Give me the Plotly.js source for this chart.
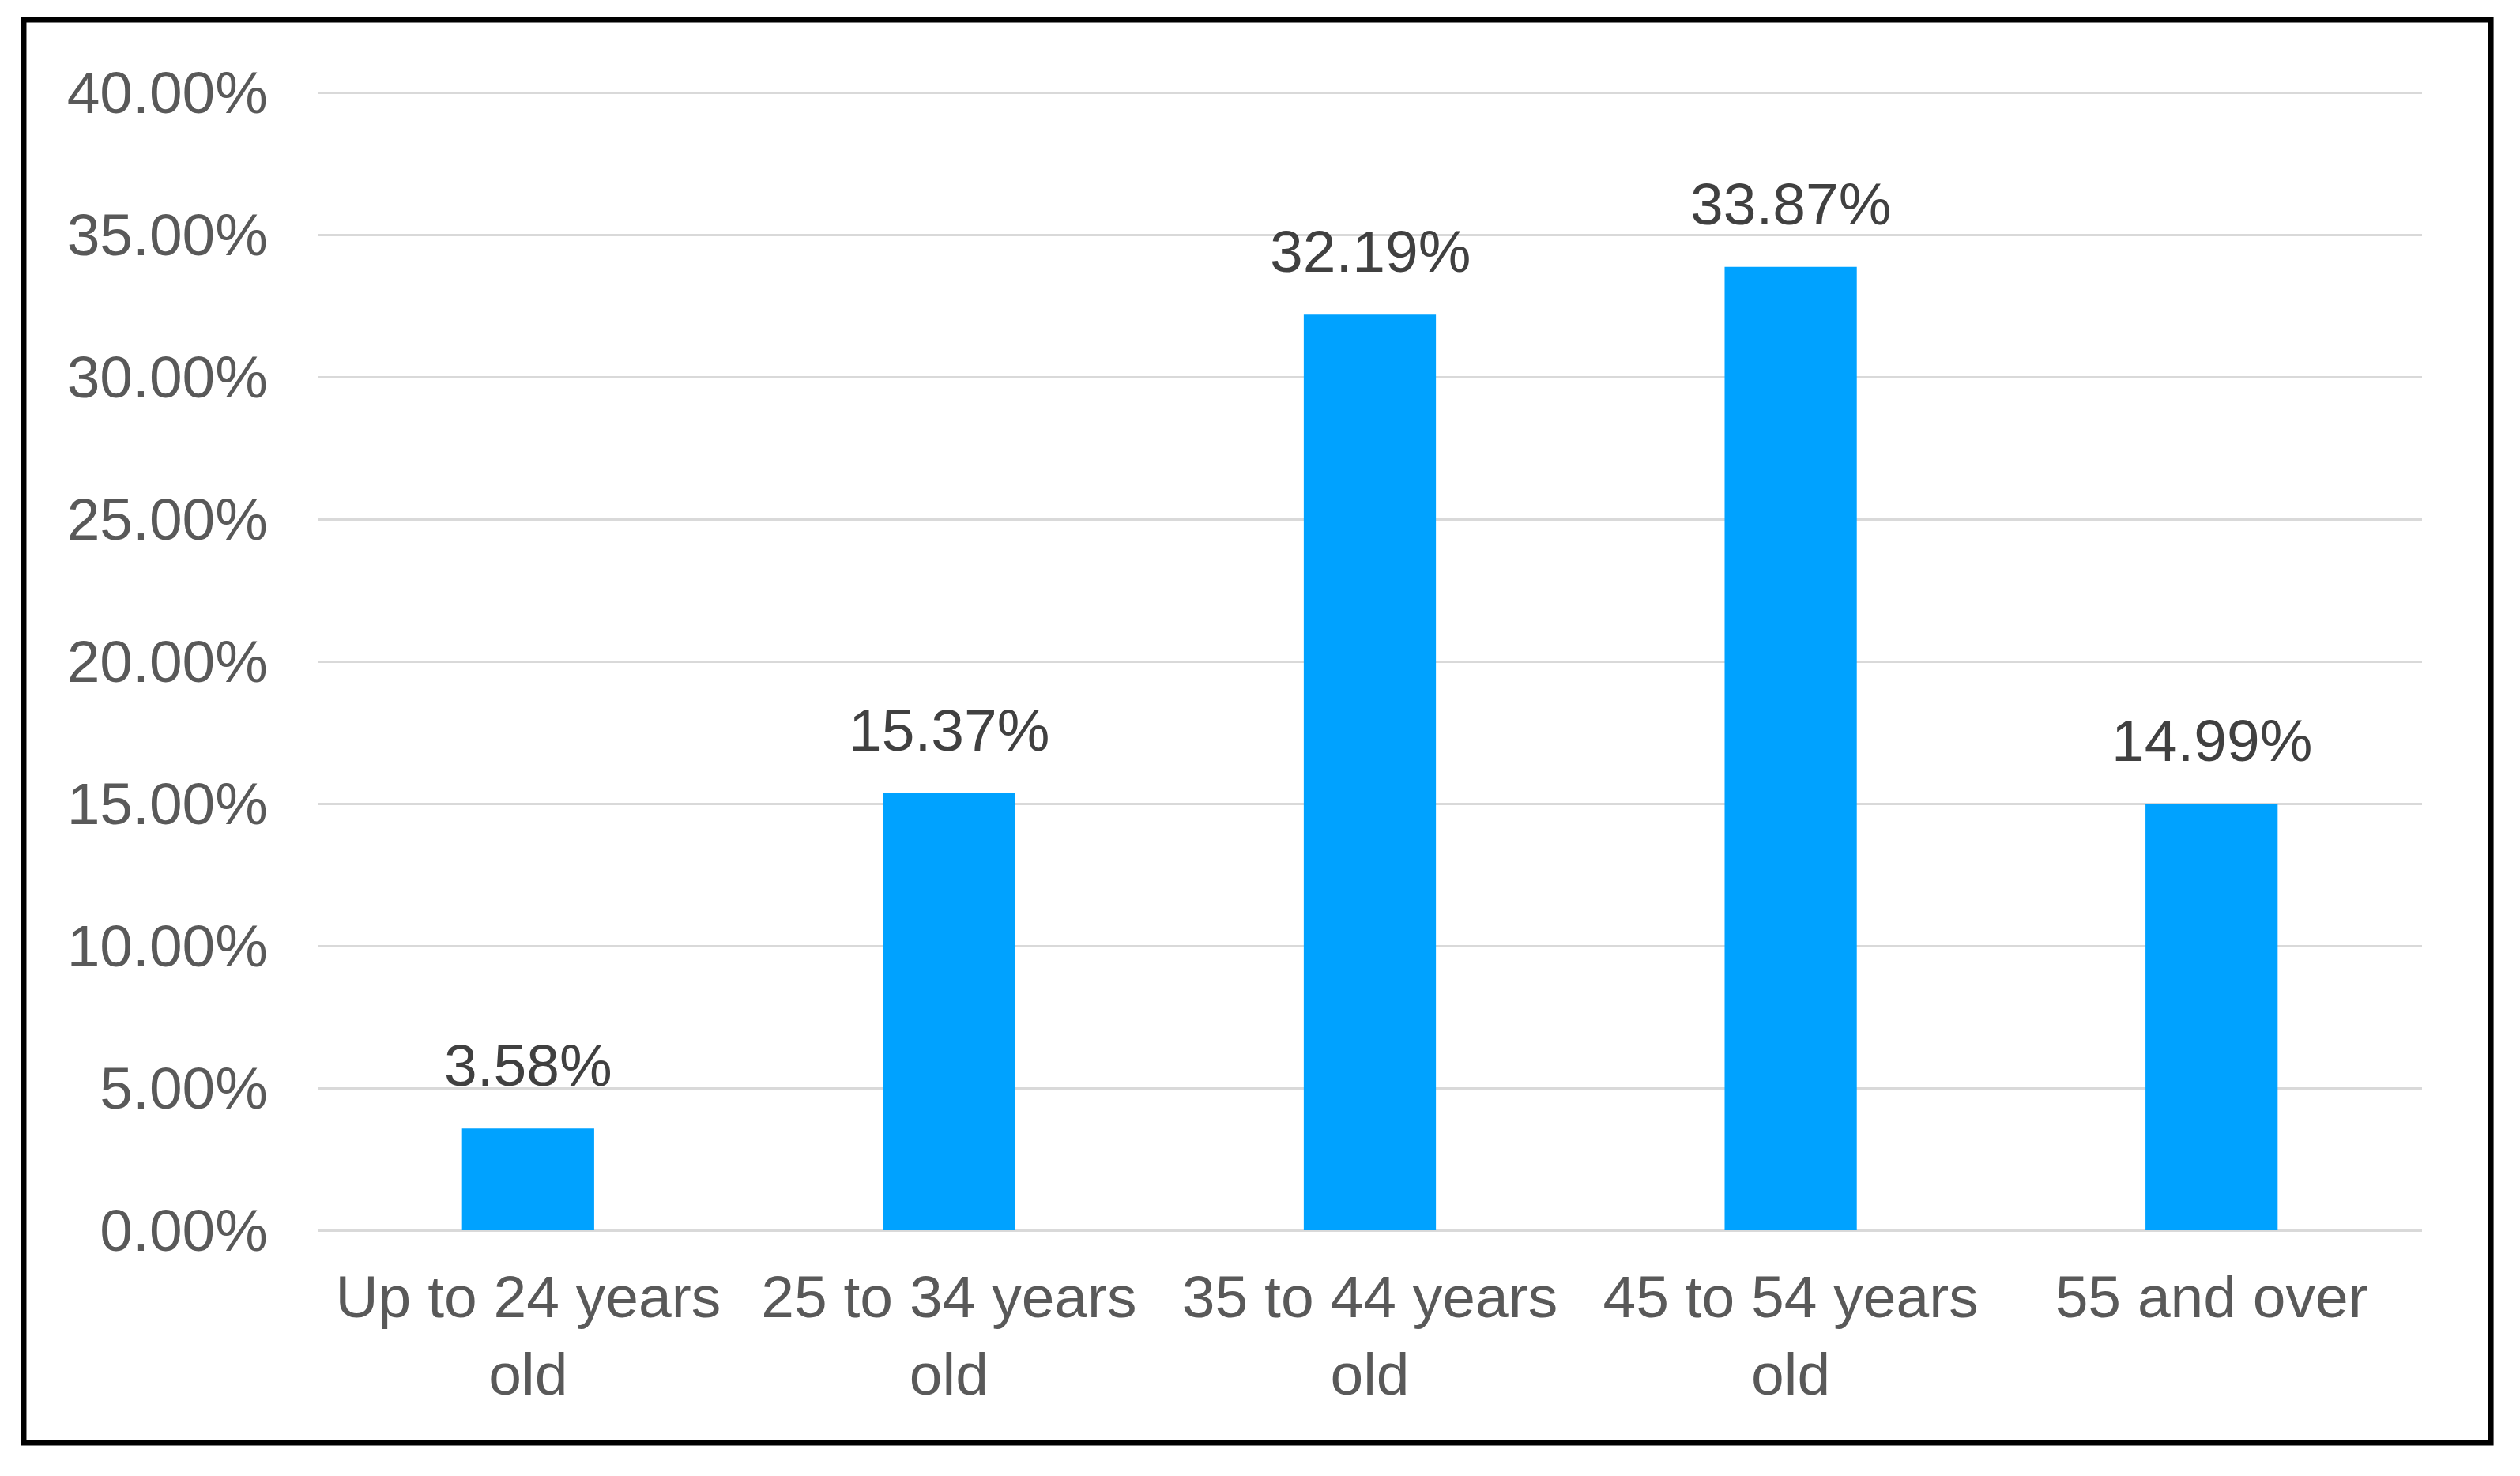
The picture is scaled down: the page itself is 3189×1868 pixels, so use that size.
<!DOCTYPE html>
<html>
<head>
<meta charset="utf-8">
<script src="https://cdn.plot.ly/plotly-3.0.1.min.js"></script>
<style>
html,body{margin:0;padding:0;background:#fff;}
#chart{width:3189px;height:1868px;}
</style>
</head>
<body>
<div id="chart"></div>
<script>
const categories = ["Up to 24 years<br>old", "25 to 34 years<br>old", "35 to 44 years<br>old", "45 to 54 years<br>old", "55 and over"];
const shares = [0.0358, 0.1537, 0.3219, 0.3387, 0.1499];
const shareLabels = ["3.58%", "15.37%", "32.19%", "33.87%", "14.99%"];

const fontFamily = "Liberation Sans, Arial, sans-serif";

const trace = {
  type: "bar",
  x: categories,
  y: shares,
  marker: {color: "#00a2ff"},
  width: 0.314,
  hoverinfo: "none"
};

const annotations = categories.map((c, i) => ({
  x: c, y: shares[i], xref: "x", yref: "y",
  text: shareLabels[i], showarrow: false,
  yanchor: "bottom", yshift: 36,
  font: {family: fontFamily, size: 75, color: "#404040"}
}));

const layout = {
  width: 3189, height: 1868,
  margin: {l: 402, r: 124, t: 110, b: 311, pad: 0},
  paper_bgcolor: "#fff", plot_bgcolor: "#fff",
  showlegend: false,
  bargap: 0.686,
  xaxis: {
    type: "category",
    tickfont: {family: fontFamily, size: 75, color: "#595959"},
    showgrid: false, zeroline: false,
    showline: false, ticks: "",
    ticklabelstandoff: 34
  },
  yaxis: {
    range: [0, 0.402],
    dtick: 0.05, tick0: 0,
    tickformat: ".2%",
    tickfont: {family: fontFamily, size: 75, color: "#595959"},
    showgrid: true, gridcolor: "#d9d9d9", gridwidth: 3,
    zeroline: true, zerolinecolor: "#d9d9d9", zerolinewidth: 3,
    showline: false, ticks: "",
    ticklabelstandoff: 62
  },
  annotations: annotations,
  shapes: [{
    type: "rect", xref: "paper", yref: "paper",
    x0: -0.1397, x1: 1.0327, y0: -0.1859, y1: 1.0587,
    line: {color: "#000", width: 7}, fillcolor: "rgba(0,0,0,0)", layer: "above"
  }]
};

Plotly.newPlot("chart", [trace], layout, {staticPlot: true, displayModeBar: false});
</script>
</body>
</html>
